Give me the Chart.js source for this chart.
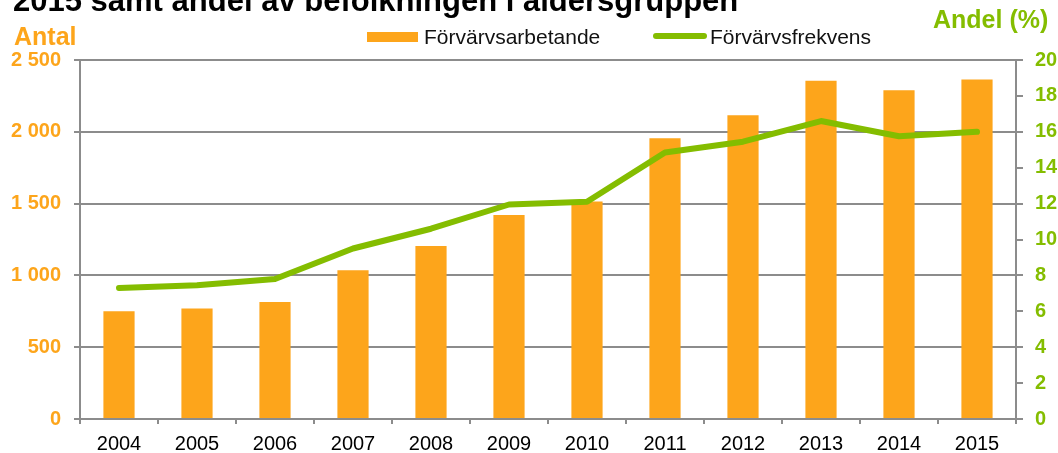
<!DOCTYPE html>
<html>
<head>
<meta charset="utf-8">
<script src="https://cdn.jsdelivr.net/npm/chart.js@4.4.0/dist/chart.umd.min.js"></script>
<style>
  html, body { margin: 0; padding: 0; background: #ffffff; }
  #wrap { width: 1058px; height: 453px; position: relative; }
</style>
</head>
<body>
<div id="wrap"><canvas id="c"></canvas></div>
<script>
// ---- Data ----
const years = ['2004','2005','2006','2007','2008','2009','2010','2011','2012','2013','2014','2015'];
const forvarvsarbetande = [750, 770, 815, 1035, 1205, 1420, 1515, 1955, 2115, 2355, 2290, 2365];
const forvarvsfrekvens = [7.3, 7.45, 7.8, 9.5, 10.6, 11.95, 12.1, 14.85, 15.45, 16.6, 15.75, 16.0];
const leftTicks = [0, 500, 1000, 1500, 2000, 2500];
const rightTicks = [0, 2, 4, 6, 8, 10, 12, 14, 16, 18, 20];

const titleText = '2015 samt andel av befolkningen i åldersgruppen';
const leftAxisTitle = 'Antal';
const rightAxisTitle = 'Andel (%)';

const ORANGE = '#FDA51B';
const GREEN = '#84BD00';
const GRID = '#8c8c8c';
const FONT = '"Liberation Sans", Arial, Helvetica, sans-serif';

function fmtThousands(v) {
  return String(v).replace(/\B(?=(\d{3})+(?!\d))/g, ' ');
}

const overlay = {
  id: 'overlay',
  afterDraw(chart) {
    const ctx = chart.ctx;
    ctx.save();
    ctx.textBaseline = 'alphabetic';
    ctx.textAlign = 'left';
    // title (cut at top as in reference)
    ctx.fillStyle = '#000000';
    ctx.font = 'bold 31px ' + FONT;
    ctx.fillText(titleText, 13, 11);
    // axis titles
    ctx.fillStyle = ORANGE;
    ctx.font = 'bold 25px ' + FONT;
    ctx.fillText(leftAxisTitle, 14, 45);
    ctx.fillStyle = GREEN;
    ctx.fillText(rightAxisTitle, 933, 28);
    // legend
    const ds = chart.data.datasets;
    const bar = ds.find(d => d.type === 'bar');
    const line = ds.find(d => d.type === 'line');
    ctx.font = '21px ' + FONT;
    ctx.fillStyle = bar.backgroundColor;
    ctx.fillRect(367, 32, 51, 10);
    ctx.fillStyle = '#111111';
    ctx.fillText(bar.label, 424, 44);
    ctx.strokeStyle = line.borderColor;
    ctx.lineWidth = 6;
    ctx.lineCap = 'round';
    ctx.beginPath();
    ctx.moveTo(656, 36);
    ctx.lineTo(704, 36);
    ctx.stroke();
    ctx.fillStyle = '#111111';
    ctx.fillText(line.label, 710, 44);
    ctx.restore();
  }
};

new Chart(document.getElementById('c'), {
  data: {
    labels: years,
    datasets: [
      {
        type: 'line',
        label: 'Förvärvsfrekvens',
        data: forvarvsfrekvens,
        yAxisID: 'y1',
        borderColor: GREEN,
        backgroundColor: GREEN,
        borderWidth: 6,
        pointRadius: 0,
        pointHoverRadius: 0,
        tension: 0,
        borderCapStyle: 'round',
        borderJoinStyle: 'round',
        order: 0
      },
      {
        type: 'bar',
        label: 'Förvärvsarbetande',
        data: forvarvsarbetande,
        yAxisID: 'y',
        backgroundColor: ORANGE,
        borderWidth: 0,
        barPercentage: 0.4,
        categoryPercentage: 1.0,
        order: 1
      }
    ]
  },
  options: {
    responsive: true,
    maintainAspectRatio: false,
    animation: false,
    layout: { padding: { top: 60, left: 0, right: 0, bottom: 0 } },
    plugins: {
      legend: { display: false },
      title: { display: false },
      tooltip: { enabled: false }
    },
    scales: {
      x: {
        offset: true,
        grid: {
          offset: true,
          drawOnChartArea: false,
          drawTicks: true,
          tickLength: 5,
          color: GRID,
          lineWidth: 2
        },
        border: { display: true, color: GRID, width: 2 },
        ticks: {
          color: '#000000',
          font: { family: FONT, size: 20 },
          padding: 8,
          maxRotation: 0,
          autoSkip: false
        },
        afterFit(scale) { scale.height = 34; }
      },
      y: {
        position: 'left',
        min: 0,
        max: 2500,
        afterBuildTicks(scale) { scale.ticks = leftTicks.map(v => ({ value: v })); },
        grid: {
          drawOnChartArea: true,
          drawTicks: true,
          tickLength: 6,
          color: GRID,
          lineWidth: 2
        },
        border: { display: true, color: GRID, width: 2 },
        ticks: {
          color: ORANGE,
          font: { family: FONT, size: 20, weight: 'bold' },
          padding: 13,
          callback: v => fmtThousands(v)
        },
        afterFit(scale) { scale.width = 80; }
      },
      y1: {
        position: 'right',
        min: 0,
        max: 20,
        afterBuildTicks(scale) { scale.ticks = rightTicks.map(v => ({ value: v })); },
        grid: {
          drawOnChartArea: false,
          drawTicks: true,
          tickLength: 7,
          color: GRID,
          lineWidth: 2
        },
        border: { display: true, color: GRID, width: 2 },
        ticks: {
          color: GREEN,
          font: { family: FONT, size: 20, weight: 'bold' },
          padding: 12
        },
        afterFit(scale) { scale.width = 42; }
      }
    }
  },
  plugins: [overlay]
});
</script>
</body>
</html>
